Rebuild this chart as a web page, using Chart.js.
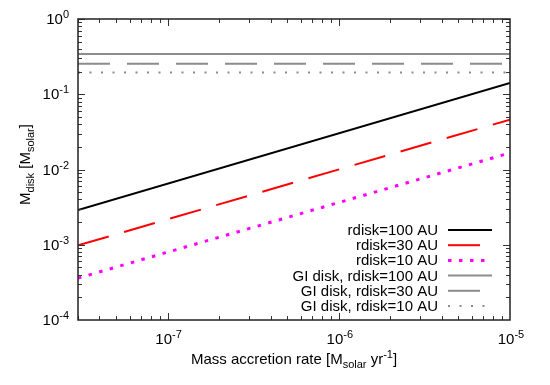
<!DOCTYPE html>
<html>
<head>
<meta charset="utf-8">
<script src="https://cdn.jsdelivr.net/npm/chart.js@4/dist/chart.umd.min.js"></script>
<style>
  html, body { margin: 0; padding: 0; background: #fff; }
  #wrap { width: 550px; height: 385px; }
</style>
</head>
<body>
<div id="wrap"><canvas id="chart"></canvas></div>
<script>
const accretionRates = [3e-8, 1e-5];
const mdisk100 = [2.9e-3, 0.141];
const mdisk30 = [9.8e-4, 0.046];
const mdisk10 = [3.6e-4, 0.0166];
const giDisk100 = [0.343, 0.343];
const giDisk30 = [0.255, 0.255];
const giDisk10 = [0.194, 0.194];

const xMajorTicks = [1e-7, 1e-6, 1e-5];
const xTickExps = ['-7', '-6', '-5'];
const yMajorTicks = [1e-4, 1e-3, 1e-2, 1e-1, 1];
const yTickExps = ['-4', '-3', '-2', '-1', '0'];

const FontFamily = '"Liberation Sans", Arial, sans-serif';
const Gray = '#8c8c8c';

const toPoints = (ys) => accretionRates.map((x, i) => ({ x: x, y: ys[i] }));

// draws text made of normal / sub / sup pieces, returns width
const richText = (ctx, parts, x, y, align) => {
	const widthOf = ([t, kind]) => {
		ctx.font = (kind === 'n' ? 15 : 11) + 'px ' + FontFamily;
		return ctx.measureText(t).width;
	};
	const total = parts.reduce((w, p) => w + widthOf(p), 0);
	let cx = align === 'right' ? x - total : align === 'center' ? x - total / 2 : x;
	ctx.textAlign = 'left';
	ctx.textBaseline = 'alphabetic';
	parts.forEach((p) => {
		const [t, kind] = p;
		const w = widthOf(p);
		const dy = kind === 'sup' ? -6 : kind === 'sub' ? 4 : 0;
		ctx.fillText(t, cx, y + dy);
		cx += w;
	});
	return total;
};

const gnuplotFrame = {
	id: 'gnuplotFrame',
	afterDraw(chart) {
		const { ctx, chartArea: a, scales: { x, y } } = chart;
		ctx.save();
		ctx.fillStyle = '#000';

		// tick marks, inward on all four sides
		ctx.strokeStyle = '#333';
		ctx.lineWidth = 1;
		ctx.beginPath();
		const xTick = (v, len) => {
			const px = Math.round(x.getPixelForValue(v)) + 0.5;
			if (px < a.left || px > a.right) return;
			ctx.moveTo(px, a.bottom); ctx.lineTo(px, a.bottom - len);
			ctx.moveTo(px, a.top); ctx.lineTo(px, a.top + len);
		};
		const yTick = (v, len) => {
			const py = Math.round(y.getPixelForValue(v)) + 0.5;
			if (py < a.top || py > a.bottom) return;
			ctx.moveTo(a.left, py); ctx.lineTo(a.left + len, py);
			ctx.moveTo(a.right, py); ctx.lineTo(a.right - len, py);
		};
		[1e-8, 1e-7, 1e-6].forEach((d) => {
			for (let m = 2; m <= 9; m++) xTick(d * m, 4);
		});
		xMajorTicks.forEach((v) => xTick(v, 7));
		[1e-4, 1e-3, 1e-2, 1e-1].forEach((d) => {
			for (let m = 2; m <= 9; m++) yTick(d * m, 4);
		});
		yMajorTicks.forEach((v) => yTick(v, 7));
		ctx.stroke();

		// border
		ctx.strokeStyle = '#222';
		ctx.lineWidth = 1.5;
		ctx.setLineDash([]);
		ctx.strokeRect(a.left, a.top, a.right - a.left, a.bottom - a.top);

		// tick labels
		xMajorTicks.forEach((v, i) => {
			richText(ctx, [['10', 'n'], [xTickExps[i], 'sup']], x.getPixelForValue(v) + 1, a.bottom + 24, 'center');
		});
		yMajorTicks.forEach((v, i) => {
			richText(ctx, [['10', 'n'], [yTickExps[i], 'sup']], a.left - 9, y.getPixelForValue(v) + 5, 'right');
		});

		// axis titles
		richText(ctx, [['Mass accretion rate [M', 'n'], ['solar', 'sub'], [' yr', 'n'], ['-1', 'sup'], [']', 'n']],
			(a.left + a.right) / 2, a.bottom + 44, 'center');
		ctx.save();
		ctx.translate(30, (a.top + a.bottom) / 2 - 5);
		ctx.rotate(-Math.PI / 2);
		richText(ctx, [['M', 'n'], ['disk', 'sub'], [' [M', 'n'], ['solar', 'sub'], [']', 'n']], 0, 0, 'center');
		ctx.restore();

		// key, bottom right, text right aligned, sample on the right
		const keyRight = a.right - 72;
		const rowTop = a.bottom - 90;
		chart.data.datasets.forEach((ds, i) => {
			const ry = rowTop + i * 15.2;
			ctx.fillStyle = '#000';
			richText(ctx, [[ds.label, 'n']], keyRight, ry + 5, 'right');
			ctx.strokeStyle = ds.borderColor;
			ctx.lineWidth = ds.borderWidth;
			ctx.setLineDash(ds.borderDash || []);
			ctx.beginPath();
			ctx.moveTo(keyRight + 10, ry);
			ctx.lineTo(keyRight + 54, ry);
			ctx.stroke();
		});
		ctx.restore();
	}
};

const lineSet = (label, ys, color, width, dash) => ({
	label: label,
	data: toPoints(ys),
	borderColor: color,
	borderWidth: width,
	borderDash: dash,
	pointRadius: 0,
	fill: false,
	tension: 0
});

new Chart(document.getElementById('chart').getContext('2d'), {
	type: 'line',
	data: {
		datasets: [
			lineSet('rdisk=100 AU', mdisk100, '#000000', 2, []),
			lineSet('rdisk=30 AU', mdisk30, '#ff0000', 2, [32, 16]),
			lineSet('rdisk=10 AU', mdisk10, '#ff00ff', 3, [3.5, 7.5]),
			lineSet('GI disk, rdisk=100 AU', giDisk100, Gray, 2, []),
			lineSet('GI disk, rdisk=30 AU', giDisk30, Gray, 2, [32, 17]),
			lineSet('GI disk, rdisk=10 AU', giDisk10, Gray, 2, [2, 9.5])
		]
	},
	options: {
		responsive: true,
		maintainAspectRatio: false,
		animation: false,
		layout: { padding: { left: 0, right: 40, top: 19, bottom: 0 } },
		plugins: { legend: { display: false }, tooltip: { enabled: false } },
		scales: {
			x: {
				type: 'logarithmic',
				min: 3e-8,
				max: 1e-5,
				grid: { display: false },
				border: { display: false },
				ticks: { display: false },
				afterFit: (s) => { s.height = 65; }
			},
			y: {
				type: 'logarithmic',
				min: 1e-4,
				max: 1,
				grid: { display: false },
				border: { display: false },
				ticks: { display: false },
				afterFit: (s) => { s.width = 78; }
			}
		}
	},
	plugins: [gnuplotFrame]
});
</script>
</body>
</html>
